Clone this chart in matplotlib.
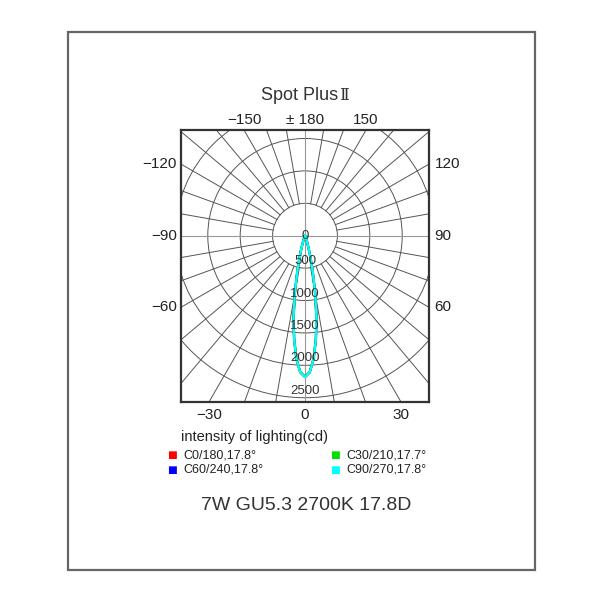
import numpy as np
import matplotlib
matplotlib.use("Agg")
import matplotlib.pyplot as plt
from matplotlib.patches import Rectangle, Circle

plt.rcParams['font.family'] = ['Liberation Sans', 'DejaVu Sans']

# ---- data ----
title_main = "Spot Plus"
title_numeral = "Ⅱ"
subtitle = "7W GU5.3 2700K 17.8D"
unit_label = "intensity of lighting(cd)"
gamma = [0, 2, 4, 6, 8, 10, 12, 14, 16, 18, 20, 22, 24, 26, 28, 30]  # degrees from nadir
c0 = [2180, 2108, 1905, 1610, 1270, 905, 585, 352, 200, 106, 50, 22, 10, 4, 2, 0]
c30 = [2175, 2102, 1898, 1600, 1260, 896, 578, 347, 197, 104, 49, 22, 10, 4, 2, 0]
c60 = [2180, 2107, 1903, 1608, 1268, 903, 584, 351, 199, 106, 50, 22, 10, 4, 2, 0]
c90 = [2182, 2109, 1907, 1612, 1272, 907, 587, 353, 201, 107, 51, 22, 10, 4, 2, 0]
series_labels = ["C0/180,17.8°", "C30/210,17.7°", "C60/240,17.8°", "C90/270,17.8°"]
series_colors = ["#ff0000", "#00e000", "#0000ff", "#00ffff"]
ring_values = [500, 1000, 1500, 2000, 2500]
ring_labels = ["500", "1000", "1500", "2000", "2500"]
angle_ticks_bottom = [-30, 0, 30]
angle_ticks_side = [60, 90, 120]
angle_ticks_top = [-150, 180, 150]

fig = plt.figure(figsize=(6, 6), dpi=100)
fig.patch.set_facecolor("white")

# outer frame
fig.add_artist(Rectangle((68/600, 1-570/600), (535-68)/600, (570-32)/600,
                         transform=fig.transFigure, fill=False,
                         edgecolor="#666666", lw=1.6))

ax = fig.add_axes([181/600, 1-402/600, 248/600, 272/600])
XL = 1913
ax.set_xlim(-XL, XL)
ax.set_ylim(-2566, 1631)
ax.set_aspect("equal", adjustable="box")
ax.set_xticks([]); ax.set_yticks([])
for s in ax.spines.values():
    s.set_linewidth(1.6)
    s.set_color("#333333")

gcol = "#555555"
# rings
for r in ring_values:
    ax.add_patch(Circle((0, 0), r, fill=False, edgecolor=gcol, lw=0.7, zorder=1))
# radial lines every 10 deg, starting from the first ring
R = 5000
for a in range(0, 360, 10):
    t = np.radians(a)
    dx, dy = np.sin(t), -np.cos(t)
    if a % 90 == 0:
        ax.plot([0, R*dx], [0, R*dy], color="#999999", lw=0.8, zorder=1)
    else:
        ax.plot([ring_values[0]*dx, R*dx], [ring_values[0]*dy, R*dy],
                color=gcol, lw=0.7, zorder=1)

# curves
g = np.array(gamma, dtype=float)
order = [0, 2, 1, 3]
for i in order:
    vals = np.array([c0, c30, c60, c90][i], dtype=float)
    ang = np.radians(np.concatenate([-g[::-1], g[1:]]))
    rr = np.concatenate([vals[::-1], vals[1:]])
    ax.plot(rr*np.sin(ang), -rr*np.cos(ang), color=series_colors[i], lw=1.6, zorder=3)

# ring labels
ax.text(0, 0, "0", ha="center", va="center", fontsize=9.5, color="#333333", zorder=4)
for r, lab in zip(ring_values, ring_labels):
    ax.annotate(lab, (0, -r), xytext=(0, 5), textcoords="offset points",
                ha="center", va="center", fontsize=9.5, color="#333333", zorder=4)

def fmt(a):
    if a == 180:
        return "± 180"
    return ("−%d" % abs(a)) if a < 0 else str(a)

# angle labels (where rays meet the box edge)
tc = "#222222"
fs = 11
ylo, yhi = ax.get_ylim()
for a in angle_ticks_bottom:
    t = np.radians(a)
    x = np.sin(t) / np.cos(t) * (-ylo)
    ax.annotate(fmt(a), (x, ylo), xytext=(0, -9),
                textcoords="offset points", ha="center", va="center", fontsize=fs, color=tc,
                annotation_clip=False)
for a in angle_ticks_top:
    t = np.radians(a)
    x = yhi * np.sin(t) / (-np.cos(t))
    ax.annotate(fmt(a), (x, yhi), xytext=(0, 7), textcoords="offset points",
                ha="center", va="center", fontsize=fs, color=tc, annotation_clip=False)
for a in angle_ticks_side:
    t = np.radians(a)
    y = -XL * np.cos(t) / np.sin(t)
    ax.annotate(fmt(a), (XL, y), xytext=(4, 0), textcoords="offset points",
                ha="left", va="center", fontsize=fs, color=tc, annotation_clip=False)
    ax.annotate(fmt(-a), (-XL, y), xytext=(-3, 0), textcoords="offset points",
                ha="right", va="center", fontsize=fs, color=tc, annotation_clip=False)

# titles
fig.text(338/600, 1-96/600, title_main, ha="right", va="center", fontsize=13, color="#333333")
fig.text(339/600, 1-96/600, title_numeral, ha="left", va="center", fontsize=12,
         color="#333333", family=["DejaVu Serif", "DejaVu Sans"])
fig.text(306/600, 1-505/600, subtitle, ha="center", va="center", fontsize=14, color="#333333")
fig.text(181/600, 1-437/600, unit_label, ha="left", va="center", fontsize=10.5, color="#222222")

pos = [(172, 455), (335, 455), (172, 470), (335, 470)]
for (px, py), lab, col in zip(pos, series_labels, series_colors):
    fig.text(px/600, 1-py/600, "■", ha="center", va="center", fontsize=7.5,
             color=col, family="DejaVu Sans")
    fig.text((px+11)/600, 1-py/600, lab, ha="left", va="center", fontsize=9, color="#222222")

fig.savefig("out.png", dpi=100, facecolor="white")
